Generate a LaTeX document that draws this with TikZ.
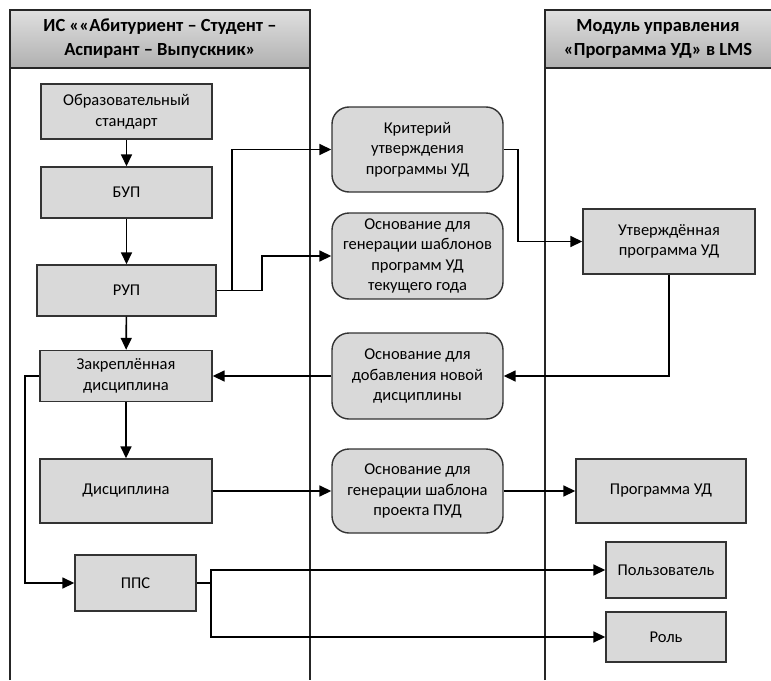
\documentclass[tikz,border=0pt]{standalone}
\usepackage{fontspec}
\setmainfont{Carlito}
\usetikzlibrary{arrows.meta}
\definecolor{boxfill}{HTML}{D9D9D9}
\definecolor{boxline}{HTML}{333333}
\begin{document}
\begin{tikzpicture}[x=1pt,y=-1pt,
  box/.style={draw=boxline, line width=1.4pt, fill=boxfill, align=center,
    font=\fontsize{16.5}{20.5}\selectfont, inner sep=2pt},
  rbox/.style={box, rounded corners=17pt},
  hdr/.style={align=center, font=\fontsize{18.5}{24}\selectfont\bfseries},
  lane/.style={draw=black!85, line width=1.2pt},
  arr/.style={line width=1.6pt, -{Triangle[length=12pt,width=11pt]}},
  ln/.style={line width=1.6pt}]
\useasboundingbox (0,0) rectangle (771,680);
\fill[white] (0,0) rectangle (771,680);
% lanes
\shade[top color=gray!25, bottom color=gray!62] (10,10) rectangle (310,68);
\shade[top color=gray!25, bottom color=gray!62] (545,10) rectangle (772,68);
\draw[lane] (10,680) -- (10,10) -- (310,10) -- (310,680);
\draw[lane] (10,68) -- (310,68);
\draw[lane] (545,680) -- (545,10) -- (772,10);
\draw[lane] (545,68) -- (772,68);
\node[hdr] (hl) at (160,39) {ИС ««Абитуриент – Студент –\\Аспирант – Выпускник»};
\node[hdr] (hr) at (658,39) {Модуль управления\\«Программа УД» в LMS};
% left column
\node[box, minimum width=171pt, minimum height=55pt] (os) at (126.5,111.5) {Образовательный\\стандарт};
\node[box, minimum width=171pt, minimum height=51pt] (bup) at (126.5,192.5) {БУП};
\node[box, minimum width=179pt, minimum height=51pt] (rup) at (126.5,290.5) {РУП};
\node[box, minimum width=172pt, minimum height=51pt] (zakr) at (126,376) {Закреплённая\\дисциплина};
\node[box, minimum width=172pt, minimum height=64pt] (disc) at (126,491) {Дисциплина};
\node[box, minimum width=121pt, minimum height=56pt] (pps) at (135.5,583) {ППС};
% middle column
\node[rbox, minimum width=171pt, minimum height=85pt] (krit) at (417.5,149.5) {Критерий\\утверждения\\программы УД};
\node[rbox, minimum width=171pt, minimum height=86pt] (osn1) at (417.5,256) {Основание для\\генерации шаблонов\\программ УД\\текущего года};
\node[rbox, minimum width=171pt, minimum height=86pt] (osn2) at (417.5,376) {Основание для\\добавления новой\\дисциплины};
\node[rbox, minimum width=171pt, minimum height=84pt] (osn3) at (417.5,491) {Основание для\\генерации шаблона\\проекта ПУД};
% right column
\node[box, minimum width=172pt, minimum height=65pt] (utv) at (669,241.5) {Утверждённая\\программа УД};
\node[box, minimum width=170pt, minimum height=64pt] (prog) at (661,491) {Программа УД};
\node[box, minimum width=120pt, minimum height=56pt] (polz) at (666,570) {Пользователь};
\node[box, minimum width=120pt, minimum height=50pt] (rol) at (666,637) {Роль};
% junctions
\coordinate (j1) at (232,290.5);
\coordinate (j2) at (262,290.5);
\coordinate (j3) at (518,149.5);
\coordinate (j4) at (25,376);
\coordinate (j5) at (211,583);
% connectors
\draw[arr] (os) -- (bup);
\draw[arr] (bup) -- (rup);
\draw[arr] (rup) -- (zakr);
\draw[arr] (zakr) -- (disc);
\draw[ln] (rup.east) -- (j2);
\draw[arr] (j1) |- (krit.west);
\draw[arr] (j2) |- (osn1.west);
\draw[arr] (krit.east) -- (j3) |- (utv.west);
\draw[arr] (utv.south) |- (osn2.east);
\draw[arr] (osn2.west) -- (zakr.east);
\draw[arr] (zakr.west) -- (j4) |- (pps.west);
\draw[arr] (disc.east) -- (osn3.west);
\draw[arr] (osn3.east) -- (prog.west);
\draw[ln] (pps.east) -- (j5);
\draw[arr] (j5) |- (polz.west);
\draw[arr] (j5) |- (rol.west);
\end{tikzpicture}
\end{document}
